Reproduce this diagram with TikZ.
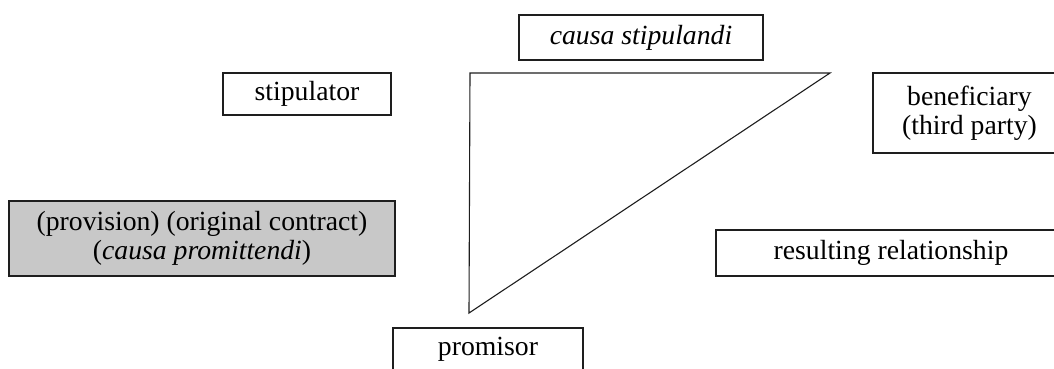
\documentclass[tikz,border=0pt]{standalone}
\usepackage{fontspec}
\setmainfont{Liberation Serif}
\definecolor{boxgray}{RGB}{200,200,200}
\definecolor{inkline}{RGB}{30,30,30}
\tikzset{
  labelbox/.style={draw=inkline, line width=1.1bp, rectangle, inner sep=0pt,
    align=center, font=\fontsize{27.7bp}{28.5bp}\selectfont},
  wedge/.style={draw=inkline, line width=1.1bp, line join=miter}
}
\begin{document}
\begin{tikzpicture}[x=1bp,y=-1bp]
  \useasboundingbox (0,0) rectangle (1054,368);
  \clip (0,0) rectangle (1054,368);

  % parties and relationships
  \node[labelbox, minimum width=244bp, minimum height=45bp] (cstip) at (641,37.5) {\textit{causa stipulandi}};
  \node[labelbox, minimum width=168bp, minimum height=42bp] (stipulator) at (307,94) {stipulator};
  \node[labelbox, minimum width=193bp, minimum height=80bp] (beneficiary) at (969.5,113) {beneficiary\\(third party)};
  \node[labelbox, fill=boxgray, minimum width=386bp, minimum height=75bp] (provision) at (202,238.5) {(provision) (original contract)\\(\textit{causa promittendi})};
  \node[labelbox, minimum width=350bp, minimum height=46bp] (resulting) at (891,253) {resulting relationship};
  \node[labelbox, minimum width=190bp, minimum height=42bp] (promisor) at (488,349) {promisor};

  % the three-party triangle
  \coordinate (tl) at (470,73);
  \coordinate (tr) at (830,73);
  \coordinate (bt) at (469,313);
  \draw[wedge] (tl) -- (tr) -- (bt) -- cycle;
\end{tikzpicture}
\end{document}
